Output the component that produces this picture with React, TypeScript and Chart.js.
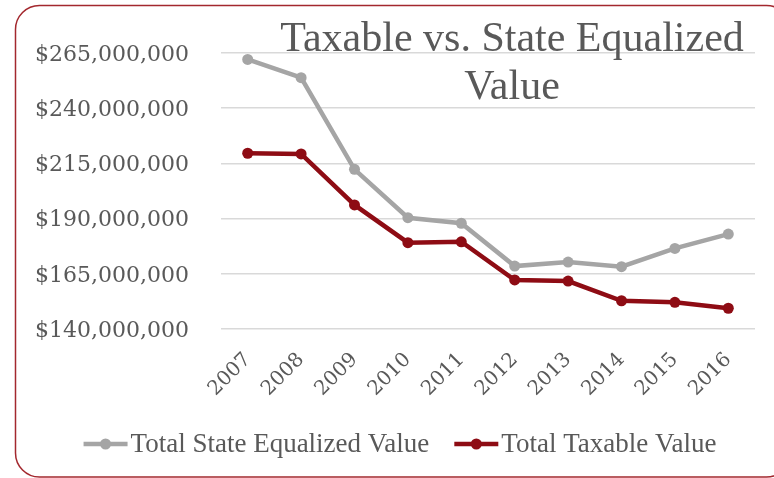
import React, { useEffect, useRef } from "react";
import { Chart, registerables } from "chart.js";

Chart.register(...registerables);

const years = ["2007", "2008", "2009", "2010", "2011", "2012", "2013", "2014", "2015", "2016"];
const stateEqualized = [262100000, 253800000, 212300000, 190400000, 187900000, 168500000, 170300000, 168200000, 176500000, 183000000];
const taxable = [219600000, 219300000, 196200000, 179100000, 179500000, 162200000, 161700000, 152800000, 152100000, 149400000];
const seriesNames = ["Total State Equalized Value", "Total Taxable Value"];
const titleLines = ["Taxable vs. State Equalized", "Value"];
const yMin = 140000000;
const yMax = 265000000;
const yStep = 25000000;

const GRAY = "#A5A5A5";
const RED = "#8E0C14";
const TEXT = "#595959";

const framePlugin = {
  id: "frame",
  beforeDraw(chart: any) {
    const ctx = chart.ctx;
    ctx.save();
    ctx.fillStyle = "#ffffff";
    ctx.fillRect(0, 0, chart.width, chart.height);
    ctx.beginPath();
    ctx.lineWidth = 1.5;
    ctx.strokeStyle = "#A3282E";
    (ctx as any).roundRect(15.5, 5.5, 775, 471.5, 24);
    ctx.stroke();
    ctx.restore();
  },
};

const titlePlugin = {
  id: "overlayTitle",
  afterDraw(chart: any) {
    const ctx = chart.ctx;
    ctx.save();
    ctx.fillStyle = TEXT;
    ctx.font = "42px 'Liberation Serif'";
    ctx.textAlign = "center";
    ctx.textBaseline = "alphabetic";
    ctx.fillText(titleLines[0], 512, 51);
    ctx.fillText(titleLines[1], 512, 99);
    ctx.restore();
  },
};

const legendPlugin = {
  id: "customLegend",
  afterDraw(chart: any) {
    const ctx = chart.ctx;
    ctx.save();
    ctx.font = "27px 'Liberation Serif'";
    const iconW = 44;
    const gap = 3;
    const itemGap = 25;
    const items = chart.data.datasets.map((ds: any) => ({
      label: ds.label,
      color: ds.borderColor,
      w: iconW + gap + ctx.measureText(ds.label).width,
    }));
    const total = items.reduce((s: number, it: any) => s + it.w, 0) + itemGap * (items.length - 1);
    let x = 400 - total / 2;
    const iconY = 444;
    const textY = 452;
    for (const it of items) {
      ctx.strokeStyle = it.color;
      ctx.lineWidth = 4.5;
      ctx.lineCap = "butt";
      ctx.beginPath();
      ctx.moveTo(x, iconY);
      ctx.lineTo(x + iconW, iconY);
      ctx.stroke();
      ctx.fillStyle = it.color;
      ctx.beginPath();
      ctx.arc(x + iconW / 2, iconY, 5.5, 0, Math.PI * 2);
      ctx.fill();
      ctx.fillStyle = TEXT;
      ctx.textAlign = "left";
      ctx.textBaseline = "alphabetic";
      ctx.fillText(it.label, x + iconW + gap, textY);
      x += it.w + itemGap;
    }
    ctx.restore();
  },
};

export default function App() {
  const ref = useRef<HTMLCanvasElement | null>(null);

  useEffect(() => {
    if (!ref.current) return;
    const chart = new Chart(ref.current, {
      type: "line",
      data: {
        labels: years,
        datasets: [
          {
            label: seriesNames[0],
            data: stateEqualized,
            borderColor: GRAY,
            backgroundColor: GRAY,
            pointBackgroundColor: GRAY,
            pointBorderColor: GRAY,
            borderWidth: 4.5,
            pointRadius: 5.5,
            pointBorderWidth: 0,
            tension: 0,
          },
          {
            label: seriesNames[1],
            data: taxable,
            borderColor: RED,
            backgroundColor: RED,
            pointBackgroundColor: RED,
            pointBorderColor: RED,
            borderWidth: 4.5,
            pointRadius: 5.5,
            pointBorderWidth: 0,
            tension: 0,
          },
        ],
      },
      options: {
        responsive: false,
        animation: false,
        layout: { padding: { left: 0, right: 19, top: 53, bottom: 0 } },
        plugins: {
          legend: { display: false },
          title: { display: false },
          tooltip: { enabled: false },
        },
        scales: {
          x: {
            offset: true,
            grid: { display: false },
            border: { display: false },
            ticks: {
              color: TEXT,
              font: { family: "'DejaVu Serif'", size: 20 },
              maxRotation: 45,
              minRotation: 45,
              padding: 11,
            },
            afterFit(scale: any) {
              scale.height = 149;
            },
          },
          y: {
            min: yMin,
            max: yMax,
            border: { display: false },
            grid: { color: "#D9D9D9", lineWidth: 1.5, drawTicks: false },
            ticks: {
              stepSize: yStep,
              color: TEXT,
              padding: 32,
              labelOffset: 2,
              font: { family: "'DejaVu Serif'", size: 22 },
              callback: (v: any) => "$" + Number(v).toLocaleString("en-US"),
            },
            afterFit(scale: any) {
              scale.width = 221;
            },
          },
        },
      },
      plugins: [framePlugin, titlePlugin, legendPlugin],
    });
    return () => chart.destroy();
  }, []);

  return (
    <div style={{ position: "fixed", left: 0, top: 0, width: 774, height: 478 }}>
      <canvas ref={ref} width={774} height={478} style={{ display: "block" }} />
    </div>
  );
}
